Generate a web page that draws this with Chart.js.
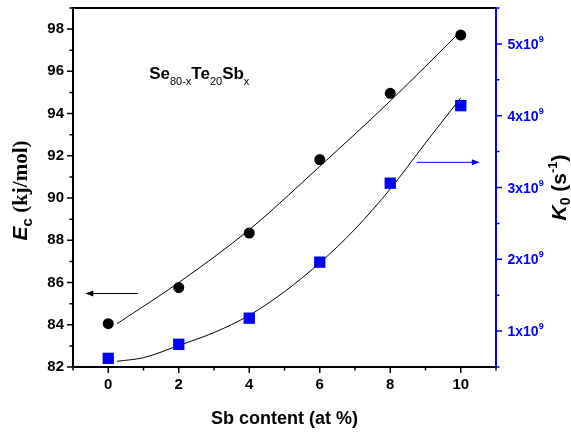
<!DOCTYPE html>
<html>
<head>
<meta charset="utf-8">
<script src="https://cdn.jsdelivr.net/npm/chart.js@4.4.0/dist/chart.umd.min.js"></script>
<style>
  html, body { margin: 0; padding: 0; background: #fff; }
</style>
</head>
<body>
<canvas id="chart" width="571" height="432"></canvas>
<script>
// measured points
const sbContent = [0, 2, 4, 6, 8, 10]
const ecValues = [84.05, 85.76, 88.34, 91.82, 94.96, 97.72]
const k0Values = [0.62e9, 0.816e9, 1.18e9, 1.96e9, 3.06e9, 4.14e9]

// fitted curves
const ecFitX = [0.25, 2, 4, 6, 8, 10]
const ecFitY = [84.05, 86.0, 88.5, 91.5, 94.6, 97.9]
const k0FitX = [0.25, 1, 2, 3, 4, 5, 6, 7, 8, 9, 10]
const k0FitY = [0.58e9, 0.63e9, 0.8e9, 0.98e9, 1.22e9, 1.55e9, 1.95e9, 2.42e9, 2.98e9, 3.62e9, 4.25e9]

// axis ranges
const xRange = [-1, 11]
const ecRange = [82, 99]
const k0Range = [0.5e9, 5.5e9]

// arrows pointing at each series' axis: [xFrom, xTo, y]
const ecArrow = [0.85, -0.65, 85.48]
const k0Arrow = [8.75, 10.54, 3.35e9]

// composition label anchor [x, y] on the Ec scale
const seLabelAt = [1.16, 95.66]

const SANS = "Arial, 'Liberation Sans', sans-serif"
const SERIF = "'Times New Roman', 'Liberation Serif', serif"
const BLUE = '#0000ff'

const pairs = (xs, ys) => xs.map((x, i) => ({ x, y: ys[i] }))

function drawRich(ctx, parts, x, y, angle, center) {
  ctx.save()
  ctx.translate(x, y)
  ctx.rotate(angle)
  ctx.textAlign = 'left'
  ctx.textBaseline = 'alphabetic'
  let total = 0
  parts.forEach(p => {
    ctx.font = p.font
    p.w = ctx.measureText(p.text).width
    total += p.w
  })
  let cx = center ? -total / 2 : 0
  parts.forEach(p => {
    ctx.font = p.font
    ctx.fillStyle = p.color || '#000'
    ctx.fillText(p.text, cx, p.dy || 0)
    cx += p.w
  })
  ctx.restore()
}

function arrow(ctx, x1, x2, y, color) {
  const dir = Math.sign(x2 - x1)
  ctx.save()
  ctx.strokeStyle = color
  ctx.fillStyle = color
  ctx.lineWidth = 1
  ctx.beginPath()
  ctx.moveTo(x1, y)
  ctx.lineTo(x2 - dir * 6, y)
  ctx.stroke()
  ctx.beginPath()
  ctx.moveTo(x2, y)
  ctx.lineTo(x2 - dir * 8, y - 3)
  ctx.lineTo(x2 - dir * 8, y + 3)
  ctx.closePath()
  ctx.fill()
  ctx.restore()
}

// no extra room for half-label overhang: the frame is placed by hand
const noPad = s => {
  s.paddingTop = 0
  s.paddingBottom = 0
  s.paddingLeft = 0
  s.paddingRight = 0
}

const framePlugin = {
  id: 'frame',
  afterDatasetsDraw(chart) {
    const { ctx, chartArea: a, scales } = chart
    const { x, y, y1 } = scales

    // axis lines
    ctx.save()
    ctx.lineWidth = 2
    ctx.strokeStyle = '#000'
    ctx.beginPath()
    ctx.moveTo(a.left, a.bottom)
    ctx.lineTo(a.left, a.top)
    ctx.lineTo(a.right, a.top)
    ctx.moveTo(a.left, a.bottom)
    ctx.lineTo(a.right, a.bottom)
    ctx.stroke()
    ctx.strokeStyle = BLUE
    ctx.beginPath()
    ctx.moveTo(a.right, a.top)
    ctx.lineTo(a.right, a.bottom + 1)
    ctx.stroke()

    // tick marks
    ctx.lineWidth = 1.5
    ctx.strokeStyle = '#000'
    ctx.beginPath()
    x.ticks.forEach(t => {
      const px = x.getPixelForValue(t.value)
      const len = t.value % 2 === 0 ? 6 : 3.5
      ctx.moveTo(px, a.bottom)
      ctx.lineTo(px, a.bottom + len)
    })
    y.ticks.forEach(t => {
      const py = y.getPixelForValue(t.value)
      const len = t.value % 2 === 0 ? 6 : 3.5
      ctx.moveTo(a.left, py)
      ctx.lineTo(a.left - len, py)
    })
    ctx.stroke()
    ctx.strokeStyle = BLUE
    ctx.beginPath()
    y1.ticks.forEach(t => {
      const py = y1.getPixelForValue(t.value)
      const len = t.value % 1e9 === 0 ? 6 : 3.5
      ctx.moveTo(a.right, py)
      ctx.lineTo(a.right + len, py)
    })
    ctx.stroke()
    ctx.restore()

    // right tick labels with superscript exponent
    y1.ticks.forEach(t => {
      if (t.value % 1e9 !== 0) return
      const py = y1.getPixelForValue(t.value)
      drawRich(ctx, [
        { text: (t.value / 1e9) + 'x10', font: `bold 14px ${SANS}`, color: BLUE },
        { text: '9', font: `bold 9px ${SANS}`, color: BLUE, dy: -7 }
      ], a.right + 11.5, py + 5, 0, false)
    })

    // arrows
    arrow(ctx, x.getPixelForValue(ecArrow[0]), x.getPixelForValue(ecArrow[1]), y.getPixelForValue(ecArrow[2]), '#000')
    arrow(ctx, x.getPixelForValue(k0Arrow[0]), x.getPixelForValue(k0Arrow[1]), y1.getPixelForValue(k0Arrow[2]), BLUE)

    // composition label
    drawRich(ctx, [
      { text: 'Se', font: `bold 17px ${SANS}` },
      { text: '80-x', font: `11px ${SANS}`, dy: 6 },
      { text: 'Te', font: `bold 17px ${SANS}` },
      { text: '20', font: `11px ${SANS}`, dy: 6 },
      { text: 'Sb', font: `bold 17px ${SANS}` },
      { text: 'x', font: `11px ${SANS}`, dy: 6 }
    ], x.getPixelForValue(seLabelAt[0]), y.getPixelForValue(seLabelAt[1]), 0, false)

    // axis titles
    const midY = (a.top + a.bottom) / 2
    drawRich(ctx, [
      { text: 'E', font: `italic bold 21px ${SANS}` },
      { text: 'c', font: `bold 15px ${SANS}`, dy: 5 },
      { text: ' (kj/mol)', font: `bold 21px ${SERIF}` }
    ], 27, midY + 3, -Math.PI / 2, true)
    drawRich(ctx, [
      { text: 'K', font: `italic bold 21px ${SANS}` },
      { text: '0', font: `bold 14px ${SANS}`, dy: 4 },
      { text: ' (s', font: `bold 21px ${SANS}` },
      { text: '-1', font: `bold 13px ${SANS}`, dy: -9 },
      { text: ')', font: `bold 21px ${SANS}` }
    ], 566, midY, -Math.PI / 2, true)
    drawRich(ctx, [
      { text: 'Sb content (at %)', font: `bold 18px ${SANS}` }
    ], (a.left + a.right) / 2, 424, 0, true)
  }
}

const ctx = document.getElementById('chart').getContext('2d')

new Chart(ctx, {
  type: 'scatter',
  data: {
    datasets: [
      {
        label: 'Ec',
        data: pairs(sbContent, ecValues),
        yAxisID: 'y',
        pointStyle: 'circle',
        pointRadius: 5.5,
        backgroundColor: '#000',
        borderWidth: 0,
        order: 0
      },
      {
        label: 'K0',
        data: pairs(sbContent, k0Values),
        yAxisID: 'y1',
        pointStyle: 'rect',
        pointRadius: 8,
        backgroundColor: BLUE,
        borderWidth: 0,
        order: 0
      },
      {
        label: 'Ec fit',
        type: 'line',
        data: pairs(ecFitX, ecFitY),
        yAxisID: 'y',
        borderColor: '#000',
        borderWidth: 1,
        pointRadius: 0,
        cubicInterpolationMode: 'monotone',
        fill: false,
        order: 1
      },
      {
        label: 'K0 fit',
        type: 'line',
        data: pairs(k0FitX, k0FitY),
        yAxisID: 'y1',
        borderColor: '#000',
        borderWidth: 1,
        pointRadius: 0,
        cubicInterpolationMode: 'monotone',
        fill: false,
        order: 1
      }
    ]
  },
  options: {
    responsive: false,
    animation: false,
    devicePixelRatio: 1,
    layout: { padding: { top: 7, left: 0, right: 0, bottom: 0 } },
    plugins: {
      legend: { display: false },
      tooltip: { enabled: false }
    },
    scales: {
      x: {
        type: 'linear',
        position: 'bottom',
        min: xRange[0],
        max: xRange[1],
        grid: { display: false, drawTicks: false },
        border: { display: false },
        ticks: {
          stepSize: 1,
          autoSkip: false,
          maxRotation: 0,
          padding: 9,
          color: '#000',
          font: { family: SANS, size: 15, weight: 'bold' },
          callback: v => (v % 2 === 0 && v >= 0 && v <= 10 ? v : '')
        },
        afterFit: s => { s.height = 65; noPad(s) }
      },
      y: {
        type: 'linear',
        position: 'left',
        min: ecRange[0],
        max: ecRange[1],
        grid: { display: false, drawTicks: false },
        border: { display: false },
        ticks: {
          stepSize: 1,
          autoSkip: false,
          padding: 9,
          color: '#000',
          font: { family: SANS, size: 15, weight: 'bold' },
          callback: v => (v % 2 === 0 ? v : '')
        },
        afterFit: s => { s.width = 73; noPad(s) }
      },
      y1: {
        type: 'linear',
        position: 'right',
        min: k0Range[0],
        max: k0Range[1],
        grid: { display: false, drawTicks: false },
        border: { display: false },
        ticks: { stepSize: 0.5e9, autoSkip: false, display: false },
        afterFit: s => { s.width = 75; noPad(s) }
      }
    }
  },
  plugins: [framePlugin]
})
</script>
</body>
</html>
